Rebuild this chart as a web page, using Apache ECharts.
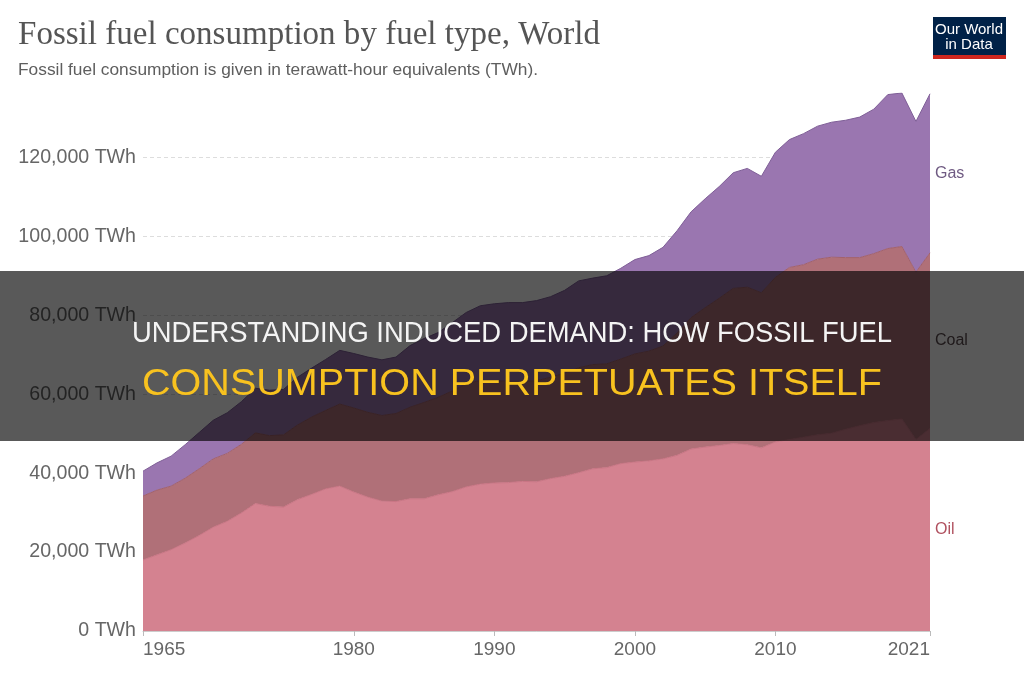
<!DOCTYPE html>
<html>
<head>
<meta charset="utf-8">
<title>Fossil fuel consumption by fuel type, World</title>
<script src="https://cdn.jsdelivr.net/npm/echarts@6/dist/echarts.min.js"></script>
<style>
    html, body { margin: 0; padding: 0; background: #fff; }
    #main { width: 1024px; height: 680px; }
</style>
</head>
<body>
<div id="main"></div>
<script>
// data (TWh)
var years = ['1965', '1966', '1967', '1968', '1969', '1970', '1971', '1972', '1973', '1974',
    '1975', '1976', '1977', '1978', '1979', '1980', '1981', '1982', '1983', '1984',
    '1985', '1986', '1987', '1988', '1989', '1990', '1991', '1992', '1993', '1994',
    '1995', '1996', '1997', '1998', '1999', '2000', '2001', '2002', '2003', '2004',
    '2005', '2006', '2007', '2008', '2009', '2010', '2011', '2012', '2013', '2014',
    '2015', '2016', '2017', '2018', '2019', '2020', '2021'];

var oil = [18000, 19300, 20600, 22300, 24200, 26300, 27800, 29900, 32300, 31600,
    31400, 33300, 34600, 36000, 36700, 35200, 33900, 32900, 32800, 33500,
    33500, 34500, 35300, 36500, 37200, 37500, 37600, 37900, 37800, 38600,
    39200, 40100, 41100, 41400, 42400, 42800, 43100, 43600, 44500, 46100,
    46600, 47000, 47500, 47200, 46400, 47900, 48500, 49100, 49700, 50100,
    51100, 52000, 52800, 53300, 53700, 48500, 51300];

var coal = [16200, 16400, 16100, 16400, 16900, 17300, 17200, 17400, 17900, 17900,
    18300, 18900, 19600, 19900, 20800, 21300, 21500, 21700, 22300, 23200,
    24400, 24700, 25500, 26100, 26300, 25900, 25700, 25400, 25600, 25700,
    26100, 26600, 26400, 26300, 26500, 27400, 27800, 28600, 31000, 33300,
    35300, 37300, 39300, 39900, 39300, 41700, 43600, 43700, 44500, 44600,
    43500, 42600, 42800, 43600, 43700, 42400, 44500];

var gas = [6300, 6900, 7600, 8500, 9200, 9800, 10300, 10800, 11300, 11500,
    11500, 12100, 12400, 12900, 13600, 13800, 14000, 14100, 14300, 15600,
    16200, 16400, 17300, 18100, 18900, 19500, 19900, 19900, 20300, 20400,
    21000, 22000, 21900, 22300, 23000, 23900, 24200, 25000, 25900, 26800,
    27600, 28300, 29300, 30100, 29500, 31700, 32400, 33200, 33700, 34200,
    34800, 35600, 36600, 39000, 38900, 38200, 40300];

var tickYears = ['1965', '1980', '1990', '2000', '2010', '2021'];

var titleText = 'Fossil fuel consumption by fuel type, World';
var subtitleText = 'Fossil fuel consumption is given in terawatt-hour equivalents (TWh).';
var bannerLine1 = 'UNDERSTANDING INDUCED DEMAND: HOW FOSSIL FUEL';
var bannerLine2 = 'CONSUMPTION PERPETUATES ITSELF';

var myChart = echarts.init(document.getElementById('main'));

function showYear(index, value) {
    return tickYears.indexOf(value) >= 0;
}

// squeeze banner text to the width it has in the picture
function fitScale(text, font, width) {
    var ctx = document.createElement('canvas').getContext('2d');
    ctx.font = font;
    return width / ctx.measureText(text).width;
}

var option = {
    animation: false,
    backgroundColor: '#fff',
    grid: {
        left: 143,
        right: 94,
        top: 93,
        bottom: 49
    },
    xAxis: {
        type: 'category',
        data: years,
        boundaryGap: false,
        axisLine: {
            lineStyle: { color: '#ccc' }
        },
        axisTick: {
            interval: showYear,
            length: 5,
            lineStyle: { color: '#bbb' }
        },
        axisLabel: {
            interval: showYear,
            alignMinLabel: 'left',
            alignMaxLabel: 'right',
            margin: 9,
            color: '#666',
            fontSize: 19,
            fontFamily: 'Liberation Sans'
        },
        splitLine: { show: false }
    },
    yAxis: {
        type: 'value',
        min: 0,
        max: function (e) { return e.max; },
        interval: 20000,
        axisLine: { show: false },
        axisTick: { show: false },
        axisLabel: {
            margin: 7,
            color: '#666',
            fontSize: 19.6,
            fontFamily: 'Liberation Sans',
            showMaxLabel: false,
            formatter: function (v) {
                if (v % 20000 !== 0) return '';
                return v.toLocaleString('en-US') + ' TWh';
            }
        },
        splitLine: {
            showMaxLine: false,
            lineStyle: { color: '#ddd', type: [4, 3] }
        }
    },
    series: [{
        name: 'Oil',
        type: 'line',
        stack: 'total',
        data: oil,
        symbol: 'none',
        itemStyle: { color: '#d48290' },
        lineStyle: { color: '#c97584', width: 1 },
        areaStyle: { color: '#d48290', opacity: 1 }
    }, {
        name: 'Coal',
        type: 'line',
        stack: 'total',
        data: coal,
        symbol: 'none',
        itemStyle: { color: '#b07078' },
        lineStyle: { color: '#a2616b', width: 1 },
        areaStyle: { color: '#b07078', opacity: 1 }
    }, {
        name: 'Gas',
        type: 'line',
        stack: 'total',
        data: gas,
        symbol: 'none',
        itemStyle: { color: '#9a76b0' },
        lineStyle: { color: '#7f5f97', width: 1 },
        areaStyle: { color: '#9a76b0', opacity: 1 }
    }]
};
myChart.setOption(option);

// band labels at the right end, placed on the middle of each band
var last = years.length - 1;
function bandLabel(name, lower, upper, color) {
    var p = myChart.convertToPixel({ gridIndex: 0 }, [years[last], (lower + upper) / 2]);
    return {
        type: 'text',
        x: p[0] + 5,
        y: p[1],
        z: 10,
        style: {
            text: name,
            fill: color,
            font: '16px "Liberation Sans"',
            align: 'left',
            verticalAlign: 'middle'
        }
    };
}

var oilTop = oil[last];
var coalTop = oilTop + coal[last];
var gasTop = coalTop + gas[last];

var font1 = '29px "Liberation Sans"';
var font2 = '36px "Liberation Sans"';

myChart.setOption({
    graphic: [
        {
            type: 'text', x: 18, y: 35, z: 10,
            scaleX: fitScale(titleText, '33px "Liberation Serif"', 582),
            style: {
                text: titleText, fill: '#555',
                font: '33px "Liberation Serif"',
                verticalAlign: 'middle'
            }
        },
        {
            type: 'text', x: 18, y: 70, z: 10,
            scaleX: fitScale(subtitleText, '16.5px "Liberation Sans"', 520),
            style: {
                text: subtitleText, fill: '#5e5e5e',
                font: '16.5px "Liberation Sans"',
                verticalAlign: 'middle'
            }
        },
        // Our World in Data logo
        { type: 'rect', z: 10, shape: { x: 933, y: 17, width: 73, height: 39 }, style: { fill: '#002147' } },
        { type: 'rect', z: 10, shape: { x: 933, y: 55, width: 73, height: 4 }, style: { fill: '#ce261e' } },
        {
            type: 'text', x: 969, y: 30, z: 11,
            style: { text: 'Our World', fill: '#fff', font: '15px "Liberation Sans"', align: 'center', verticalAlign: 'middle' }
        },
        {
            type: 'text', x: 969, y: 45, z: 11,
            style: { text: 'in Data', fill: '#fff', font: '15px "Liberation Sans"', align: 'center', verticalAlign: 'middle' }
        },
        bandLabel('Gas', coalTop, gasTop, '#6f5a82'),
        bandLabel('Coal', oilTop, coalTop, '#5a4a4e'),
        bandLabel('Oil', 0, oilTop, '#b0505f'),
        // dark banner over the middle of the chart
        {
            type: 'rect', z: 100,
            shape: { x: 0, y: 271, width: 1024, height: 170 },
            style: { fill: 'rgba(0,0,0,0.65)' }
        },
        {
            type: 'text', x: 512, y: 334, z: 101,
            scaleX: fitScale(bannerLine1, font1, 760),
            style: { text: bannerLine1, fill: '#f4f4f4', font: font1, align: 'center', verticalAlign: 'middle' }
        },
        {
            type: 'text', x: 512, y: 385, z: 101,
            scaleX: fitScale(bannerLine2, font2, 740),
            style: { text: bannerLine2, fill: '#f8c21f', font: font2, align: 'center', verticalAlign: 'middle' }
        }
    ]
});

window.addEventListener('resize', function () {
    myChart.resize();
});
</script>
</body>
</html>
